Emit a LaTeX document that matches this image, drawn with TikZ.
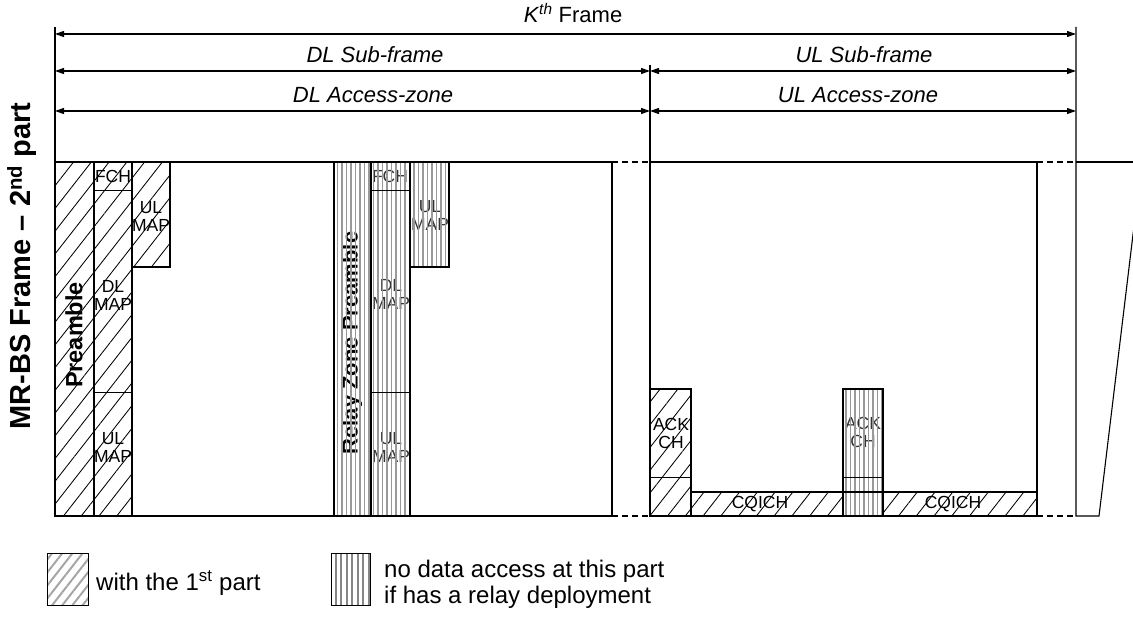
\documentclass[tikz,border=0pt]{standalone}
\usepackage{fontspec}
\setmainfont{Liberation Sans}
\usetikzlibrary{arrows.meta,patterns.meta}
\begin{document}
\begin{tikzpicture}[x=1pt,y=-1pt,
  ln/.style={line width=1.1pt},
  thinln/.style={line width=0.9pt},
  hatchfill/.style={pattern={Lines[angle=52,distance=14pt,line width=0.85pt]},pattern color=black},
  relayfill/.style={pattern={Lines[angle=90,distance=4.5pt,line width=1.4pt]},pattern color=gray!80},
  leghatch/.style={pattern={Lines[angle=52,distance=8pt,line width=2pt]},pattern color=gray!70},
  legstripe/.style={pattern={Lines[angle=90,distance=5.5pt,line width=2pt]},pattern color=gray!95},
  boxlbl/.style={font=\fontsize{17.5}{18}\selectfont,align=center,inner sep=0pt},
  rotlbl/.style={font=\fontsize{22}{24}\selectfont\bfseries,rotate=90,inner sep=0pt},
  hdr/.style={font=\fontsize{22}{26}\selectfont\itshape,inner sep=0pt},
  leglbl/.style={font=\fontsize{24}{26}\selectfont,align=left,inner sep=0pt,anchor=west},
  dim/.style={line width=1.1pt,{Triangle[length=9pt,width=6pt]}-{Triangle[length=9pt,width=6pt]}},
  dsh/.style={line width=1.1pt,dash pattern=on 6pt off 4pt},
]
\useasboundingbox (0,0) rectangle (1133,620);

% ---- named coordinates of the header
\coordinate (LT) at (55,27);
\coordinate (RT) at (1076,27);
\coordinate (MT) at (650,65);
\coordinate (kL) at (55,34);   \coordinate (kR) at (1076,34);
\coordinate (sL) at (55,71);   \coordinate (sM) at (650,71);  \coordinate (sR) at (1076,71);
\coordinate (aL) at (55,111);  \coordinate (aM) at (650,111); \coordinate (aR) at (1076,111);
\coordinate (LB) at (55,516);
\coordinate (MB) at (650,516);
\coordinate (RB) at (1076,516);

% ---- hatched areas
\fill[hatchfill] (55,162) rectangle (94,516);
\fill[hatchfill] (94,162) rectangle (132,516);
\fill[hatchfill] (132,162) rectangle (170,267);
\fill[hatchfill] (650,389) rectangle (691,516);
\fill[hatchfill] (691,492) rectangle (843,516);
\fill[hatchfill] (883,492) rectangle (1037,516);

% ---- labels of the first part
\node[rotlbl,font=\fontsize{23.5}{25}\selectfont\bfseries] (pre) at (74,335) {Preamble};
\node[boxlbl] (fch1) at (113,176) {FCH};
\node[boxlbl] (ulmap1) at (151,216) {UL\\MAP};
\node[boxlbl] (dlmap1) at (113,295) {DL\\MAP};
\node[boxlbl] (ulmap2) at (113,447) {UL\\MAP};
\node[boxlbl] (ack1) at (671,433) {ACK\\CH};
\node[boxlbl] (cq1) at (760,504) {CQICH};
\node[boxlbl] (cq2) at (953,504) {CQICH};

% ---- relay zone labels, then stripes over them
\node[rotlbl] (rpre) at (352,343) {Relay Zone Preamble};
\node[boxlbl,text=black!80] (fch2) at (390,176) {FCH};
\node[boxlbl,text=black!80] (ulmap3) at (430,215) {UL\\MAP};
\node[boxlbl,text=black!80] (dlmap2) at (391,294) {DL\\MAP};
\node[boxlbl,text=black!80] (ulmap4) at (391,447) {UL\\MAP};
\node[boxlbl,text=black!80] (ack2) at (863,432) {ACK\\CH};
\fill[relayfill] (334,162) rectangle (371,516);
\fill[relayfill] (371,162) rectangle (410,516);
\fill[relayfill] (410,162) rectangle (449,267);
\fill[relayfill] (843,389) rectangle (883,516);

% ---- box outlines
\draw[ln] (55,162) rectangle (94,516);
\draw[ln] (94,162) rectangle (132,516);
\draw[thinln] (94,190) -- (132,190) (94,392) -- (132,392);
\draw[ln] (132,162) rectangle (170,267);
\draw[ln] (334,162) rectangle (371,516);
\draw[ln] (371,162) rectangle (410,516);
\draw[thinln] (371,190) -- (410,190) (371,392) -- (410,392);
\draw[ln] (410,162) rectangle (449,267);
\draw[ln] (650,389) rectangle (691,516);
\draw[thinln] (650,477) -- (691,477);
\draw[ln] (691,492) rectangle (1037,516);
\draw[ln] (843,389) rectangle (883,516);
\draw[thinln] (843,477) -- (883,477);

% ---- frame
\draw[ln] (LT) -- (LB) -- (612,516) -- (612,162) -- (55,162);
\draw[dsh] (612,162) -- (650,162) (612,516) -- (650,516);
\draw[ln] (MT) -- (MB);
\draw[ln] (650,162) -- (1037,162) -- (1037,516) -- (MB);
\draw[dsh] (1037,162) -- (1076,162) (1037,516) -- (RB);
\draw[ln] (RT) -- (RB) -- (1099,516) -- (1135,218);
\draw[ln] (1076,162) -- (1140,162);

% ---- dimension arrows
\draw[dim] (kL) -- (kR);
\draw[dim] (sL) -- (sM);
\draw[dim] (sM) -- (sR);
\draw[dim] (aL) -- (aM);
\draw[dim] (aM) -- (aR);
\node[font=\fontsize{22}{26}\selectfont,inner sep=0pt] (kf) at (573,13) {\textit{K}\textsuperscript{\itshape th} Frame};
\node[hdr] (dls) at (375,55) {DL Sub-frame};
\node[hdr] (uls) at (864,55) {UL Sub-frame};
\node[hdr] (dla) at (373,95) {DL Access-zone};
\node[hdr] (ula) at (858,95) {UL Access-zone};

% ---- side label
\node[font=\fontsize{29}{32}\selectfont\bfseries,rotate=90,inner sep=0pt] (side) at (22,266) {MR-BS Frame -- 2\textsuperscript{nd} part};

% ---- legend
\fill[leghatch] (47,553) rectangle (88,605);
\draw[thinln] (47,553) rectangle (88,605);
\node[leglbl] (leg1) at (96,583) {with the 1\textsuperscript{st} part};
\fill[legstripe] (331,553) rectangle (370,605);
\draw[thinln] (331,553) rectangle (370,605);
\node[leglbl] (leg2) at (384,584) {no data access at this part\\if has a relay deployment};
\end{tikzpicture}
\end{document}
